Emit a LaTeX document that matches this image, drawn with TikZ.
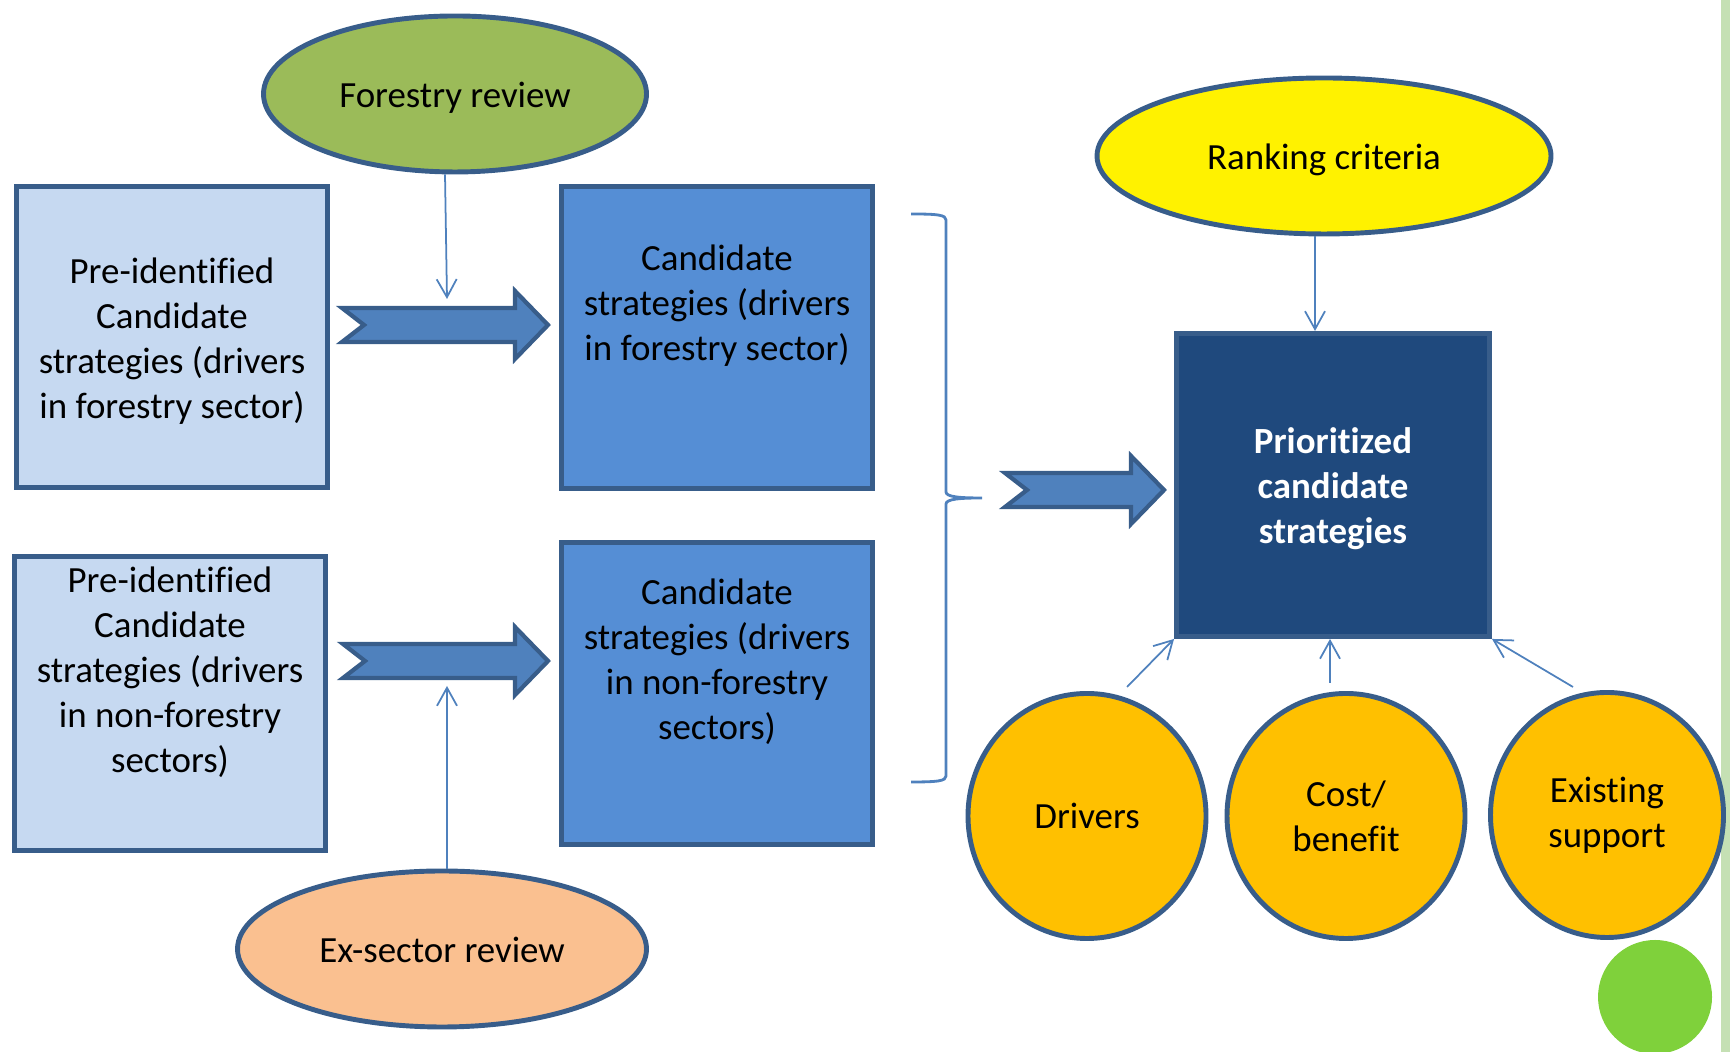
\documentclass[tikz,border=0pt]{standalone}
\usepackage{fontspec}
\setmainfont{Carlito}[Ligatures=CommonOff]
\usetikzlibrary{shapes.geometric,arrows.meta}

\definecolor{outline}{HTML}{385D8A}
\definecolor{lightbox}{HTML}{C6D9F1}
\definecolor{midbox}{HTML}{558ED5}
\definecolor{darkbox}{HTML}{1F497D}
\definecolor{arrowblue}{HTML}{4F81BD}
\definecolor{olive}{HTML}{9BBB59}
\definecolor{peach}{HTML}{FAC090}
\definecolor{amber}{HTML}{FFC000}
\definecolor{leaf}{HTML}{7FD13B}
\definecolor{stripe}{HTML}{C5E0B4}

\tikzset{
  every node/.style={font=\fontsize{10.5}{12.8}\selectfont},
  box/.style={draw=outline,line width=1.4pt,minimum width=3.11cm,inner sep=0pt},
  oval/.style={ellipse,draw=outline,line width=1.4pt,inner sep=0pt,minimum height=1.56cm,
    text height=9.8pt,text depth=2.2pt},
  ball/.style={ellipse,draw=outline,line width=1.4pt,fill=amber,inner sep=0pt,
    minimum width=2.38cm,minimum height=2.45cm,align=center},
  thinarrow/.style={arrowblue,line width=0.5pt,-{Straight Barb[length=1.8mm,width=2mm]}},
  blockarrow/.style={draw=outline,fill=arrowblue,line width=1.2pt,line join=miter}
}

\begin{document}
\begin{tikzpicture}

	\useasboundingbox (0,0) rectangle (17.3,10.52);
	\fill[stripe] (17.21,0) rectangle (17.3,10.52);

	% left column
	\node[box,fill=lightbox,minimum height=3.01cm] (pre1) at (1.72,7.15) {};
	\node[align=center] (pre1txt) at (1.72,7.11) {Pre-identified\\ Candidate\\ strategies (drivers\\ in forestry sector)};

	\node[box,fill=lightbox,minimum height=2.94cm] (pre2) at (1.70,3.485) {};
	\node[align=center] (pre2txt) at (1.70,3.80) {Pre-identified\\ Candidate\\ strategies (drivers\\ in non-forestry\\ sectors)};

	% middle column
	\node[box,fill=midbox,minimum height=3.02cm] (cand1) at (7.17,7.145) {};
	\node[align=center] (cand1txt) at (7.17,7.46) {Candidate\\ strategies (drivers\\ in forestry sector)};

	\node[box,fill=midbox,minimum height=3.02cm] (cand2) at (7.17,3.585) {};
	\node[align=center] (cand2txt) at (7.17,3.90) {Candidate\\ strategies (drivers\\ in non-forestry\\ sectors)};

	\node[oval,fill=olive,minimum width=3.83cm] (forestry) at (4.55,9.58) {Forestry review};
	\node[oval,fill=peach,minimum width=4.09cm] (exsector) at (4.42,1.03) {Ex-sector review};

	% right side
	\node[oval,fill=yellow,minimum width=4.54cm] (ranking) at (13.24,8.96) {Ranking criteria};

	\node[box,fill=darkbox,minimum width=3.13cm,minimum height=3.03cm] (prio) at (13.33,5.67) {};
	\node[text=white,align=center,font=\fontsize{10.5}{12.8}\selectfont\bfseries] (priotxt) at (13.33,5.63)
	      {Prioritized\\ candidate\\ strategies};

	\node[ball] (drivers) at (10.87,2.36) {Drivers};
	\node[ball] (cost) at (13.46,2.36) {Cost/\\ benefit};
	\node[ball,minimum width=2.33cm] (existing) at (16.07,2.37) {Existing\\ support};

	\fill[leaf] (16.55,0.55) circle (0.57);

	% block arrows
	\foreach \ax/\ay/\len in {3.42/7.27/2.06, 3.43/3.91/2.05, 10.05/5.62/1.59}
	  \draw[blockarrow] (\ax,\ay+0.17) -- ++(\len-0.33,0) -- ++(0,0.17)
	      -- ++(0.33,-0.34) -- ++(-0.33,-0.34) -- ++(0,0.17) -- (\ax,\ay-0.17)
	      -- ++(0.22,0.17) -- cycle;

	% thin arrows
	\coordinate (fortip) at (4.47,7.53);
	\coordinate (extip) at (4.47,3.66);
	\coordinate (ranktip) at (13.15,7.21);
	\coordinate (drvfoot) at (11.27,3.65);
	\coordinate (costfoot) at (13.30,3.69);
	\coordinate (exifoot) at (15.73,3.65);

	\draw[thinarrow] (forestry.south -| 4.45,0) -- (fortip);
	\draw[thinarrow] (exsector.north -| 4.47,0) -- (extip);
	\draw[thinarrow] (ranking.south -| 13.15,0) -- (ranktip);
	\draw[thinarrow] (drvfoot) -- (prio.south west);
	\draw[thinarrow] (costfoot) -- (costfoot |- prio.south);
	\draw[thinarrow] (exifoot) -- (prio.south east);

	% brace
	\draw[arrowblue,line width=0.8pt] (9.11,8.38) .. controls (9.38,8.38) and (9.46,8.37) .. (9.46,8.32)
	    -- (9.46,5.60) .. controls (9.46,5.55) and (9.60,5.54) .. (9.82,5.54)
	    .. controls (9.60,5.54) and (9.46,5.53) .. (9.46,5.48)
	    -- (9.46,2.76) .. controls (9.46,2.71) and (9.38,2.70) .. (9.11,2.70);

\end{tikzpicture}
\end{document}
